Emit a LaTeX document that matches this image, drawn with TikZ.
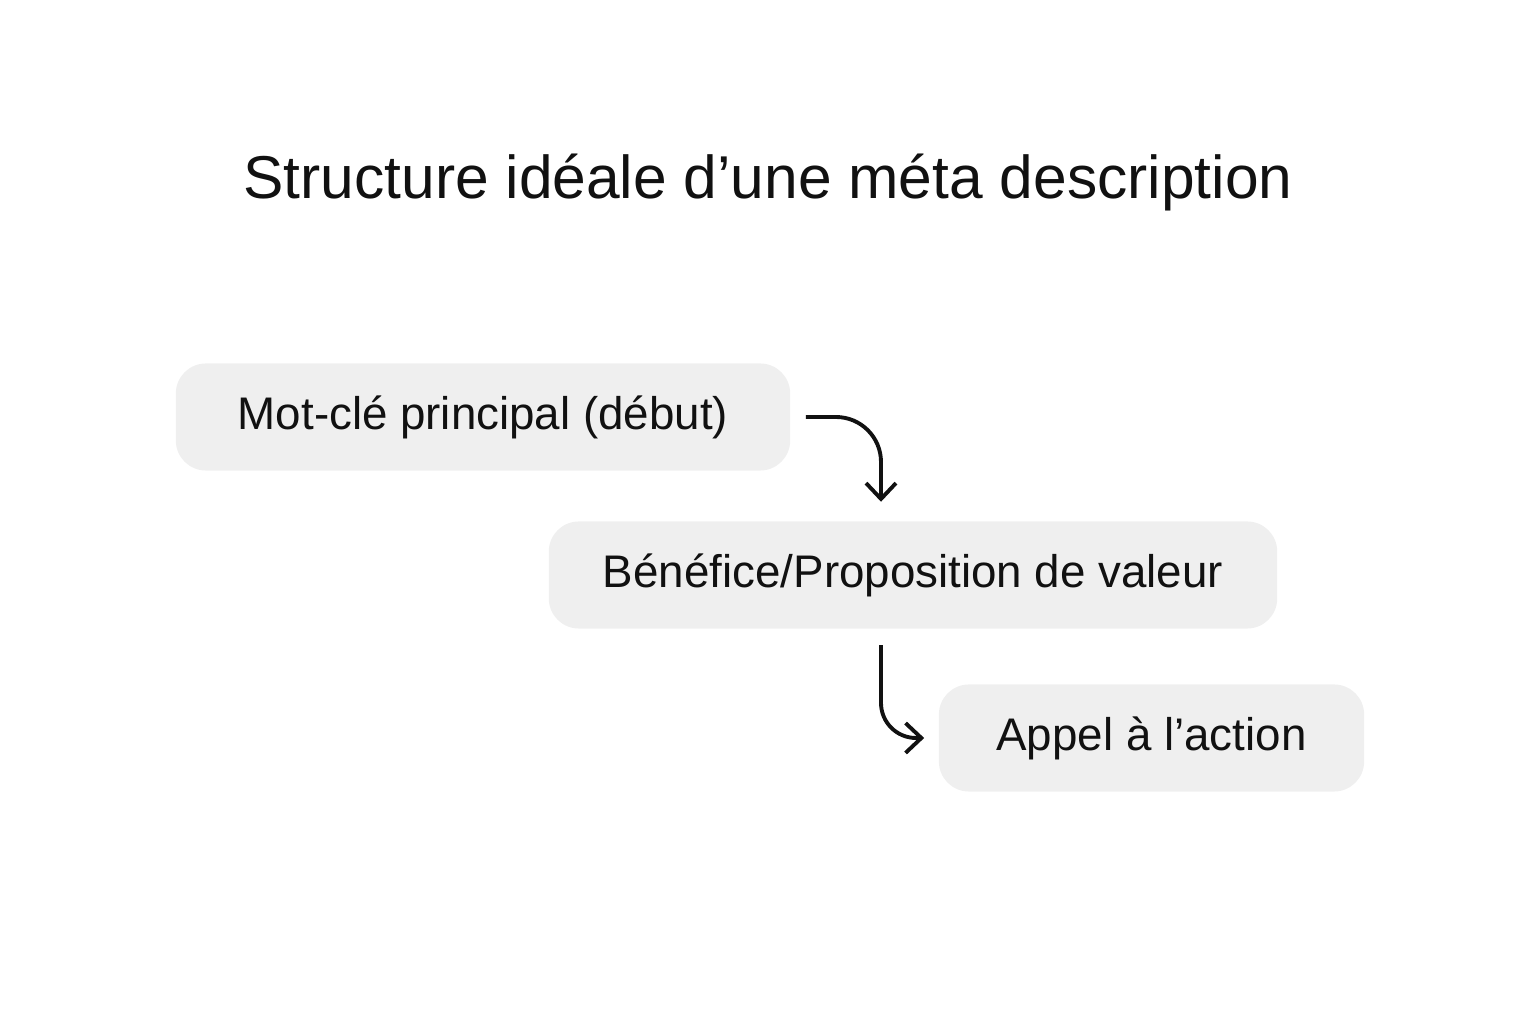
\documentclass[tikz,border=0pt]{standalone}
\usepackage{fontspec}
\setmainfont{Liberation Sans}
\usetikzlibrary{calc,arrows.meta}
\definecolor{BoxGray}{RGB}{239, 239, 239}
\definecolor{InkBlack}{RGB}{17, 17, 17}
\tikzstyle{etape} = [rectangle, rounded corners=0.3cm, minimum height=1.07cm, text centered, fill=BoxGray, text=InkBlack, font=\fontsize{13}{15}\selectfont]
\tikzstyle{arrow} = [line width=1.1pt, draw=InkBlack, rounded corners=0.4cm, -{Straight Barb[length=4.5pt, width=8.5pt, line width=1.1pt]}]

\begin{document}
\begin{tikzpicture}[x=0.01cm, y=0.01cm]
\useasboundingbox (0,0) rectangle (1536,1024);

% Titre
\node (titre) [text=InkBlack, font=\fontsize{17.2}{20}\selectfont] at (768,841) {Structure idéale d’une méta description};

% Etapes
\node (motcle) [etape, minimum width=6.14cm] at (483,607) {Mot-clé principal (début)};
\node (benefice) [etape, minimum width=7.28cm] at (913,449) {Bénéfice/Proposition de valeur};
\node (appel) [etape, minimum width=4.25cm] at (1151.5,286) {Appel à l’action};

% Flèches
\coordinate (a1) at ($(benefice.north)+(-32,19)$);
\coordinate (a2) at ($(benefice.south)+(-32,-16)$);
\draw [arrow, rounded corners=0.45cm] ($(motcle.east)+(15,0)$) -| (a1);
\draw [arrow, rounded corners=0.35cm] (a2) |- ($(appel.west)+(-14,0)$);

\end{tikzpicture}
\end{document}
